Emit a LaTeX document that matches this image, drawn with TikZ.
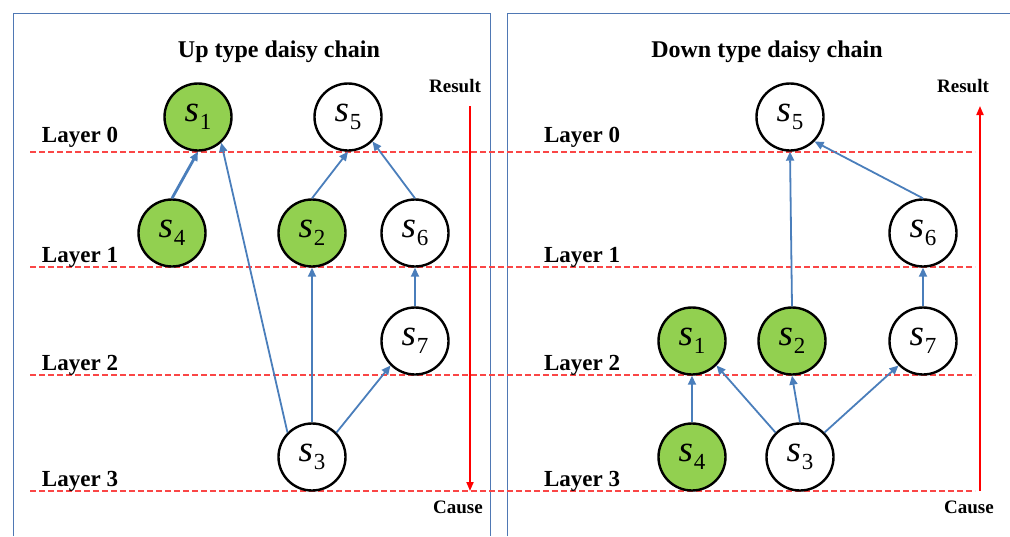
\documentclass[tikz,border=0pt]{standalone}
\usepackage{fontspec}
\setmainfont{Liberation Serif}
\usetikzlibrary{arrows.meta}
\definecolor{leafgreen}{RGB}{146,208,80}
\definecolor{linkblue}{RGB}{74,126,187}
\definecolor{panelblue}{RGB}{79,120,180}
\definecolor{layerred}{RGB}{250,70,70}
\newcommand{\sv}[1]{\fontsize{37}{37}\selectfont\textit{s}\kern1pt\raisebox{-8pt}{\fontsize{23}{23}\selectfont #1}}

\begin{document}
\begin{tikzpicture}[x=1pt,y=-1pt,
    state/.style={circle,draw=black,line width=2.4pt,fill=white,minimum size=67pt,inner sep=0pt},
    hit/.style={state,fill=leafgreen},
    link/.style={draw=linkblue,line width=1.8pt,-{Triangle[length=9pt,width=8pt]}},
    layerline/.style={draw=layerred,line width=1.3pt,dash pattern=on 5.5pt off 3.5pt},
    causal/.style={draw=red,line width=1.8pt,-{Triangle[length=9pt,width=7pt]}},
    lab/.style={font=\fontsize{23}{23}\selectfont\bfseries,anchor=base},
    ttl/.style={font=\fontsize{24}{24}\selectfont\bfseries,anchor=base},
    tag/.style={font=\fontsize{19}{19}\selectfont\bfseries,anchor=base}]
    \useasboundingbox (0,0) rectangle (1010,536);
    % panels
    \draw[panelblue,line width=1pt] (13,536) -- (13,13) -- (490,13) -- (490,536);
    \draw[panelblue,line width=1pt] (507,536) -- (507,13) -- (1010,13);
    % layers
    \foreach \yy in {152,267,375,491}
        \draw[layerline] (30,\yy) -- (975,\yy);
    \node[lab] (l0) at (80,142) {Layer 0};
    \node[lab] (l1) at (80,262) {Layer 1};
    \node[lab] (l2) at (80,370) {Layer 2};
    \node[lab] (l3) at (80,486) {Layer 3};
    \node[lab] (r0) at (582,142) {Layer 0};
    \node[lab] (r1) at (582,262) {Layer 1};
    \node[lab] (r2) at (582,370) {Layer 2};
    \node[lab] (r3) at (582,486) {Layer 3};
    \node[ttl] (utitle) at (279,57) {Up type daisy chain};
    \node[ttl] (dtitle) at (767,57) {Down type daisy chain};

    % result / cause
    \node[tag] (lres) at (455,92) {Result};
    \node[tag] (lcau) at (458,513) {Cause};
    \node[tag] (rres) at (963,92) {Result};
    \node[tag] (rcau) at (969,513) {Cause};
    \coordinate (ltop) at (470,106);
    \coordinate (lbot) at (470,491);
    \coordinate (rtop) at (980,106);
    \coordinate (rbot) at (980,491);
    \draw[causal] (ltop) -- (lbot);
    \draw[causal] (rbot) -- (rtop);

    % up type
    \node[hit] (us1) at (198,117) {\sv{1}};
    \node[state] (us5) at (348,117) {\sv{5}};
    \node[hit] (us4) at (172,233) {\sv{4}};
    \node[hit] (us2) at (312,233) {\sv{2}};
    \node[state] (us6) at (415,233) {\sv{6}};
    \node[state] (us7) at (415,341) {\sv{7}};
    \node[state] (us3) at (312,457) {\sv{3}};
    \draw[link,line width=2.8pt] (us4.north) -- (us1.south);
    \draw[link] (us3.135) -- (us1.-48);
    \draw[link] (us2.north) -- (us5.south);
    \draw[link] (us6.north) -- (us5.-45);
    \draw[link] (us3.north) -- (us2.south);
    \draw[link] (us3.45) -- (us7.225);
    \draw[link] (us7.north) -- (us6.south);

    % down type
    \node[state] (ds5) at (790,117) {\sv{5}};
    \node[state] (ds6) at (923,233) {\sv{6}};
    \node[hit] (ds1) at (692,341) {\sv{1}};
    \node[hit] (ds2) at (792,341) {\sv{2}};
    \node[state] (ds7) at (923,341) {\sv{7}};
    \node[hit] (ds4) at (692,457) {\sv{4}};
    \node[state] (ds3) at (800,457) {\sv{3}};
    \draw[link] (ds2.north) -- (ds5.south);
    \draw[link] (ds6.north) -- (ds5.-45);
    \draw[link] (ds7.north) -- (ds6.south);
    \draw[link] (ds4.north) -- (ds1.south);
    \draw[link] (ds3.135) -- (ds1.-45);
    \draw[link] (ds3.north) -- (ds2.south);
    \draw[link] (ds3.45) -- (ds7.225);
\end{tikzpicture}
\end{document}
